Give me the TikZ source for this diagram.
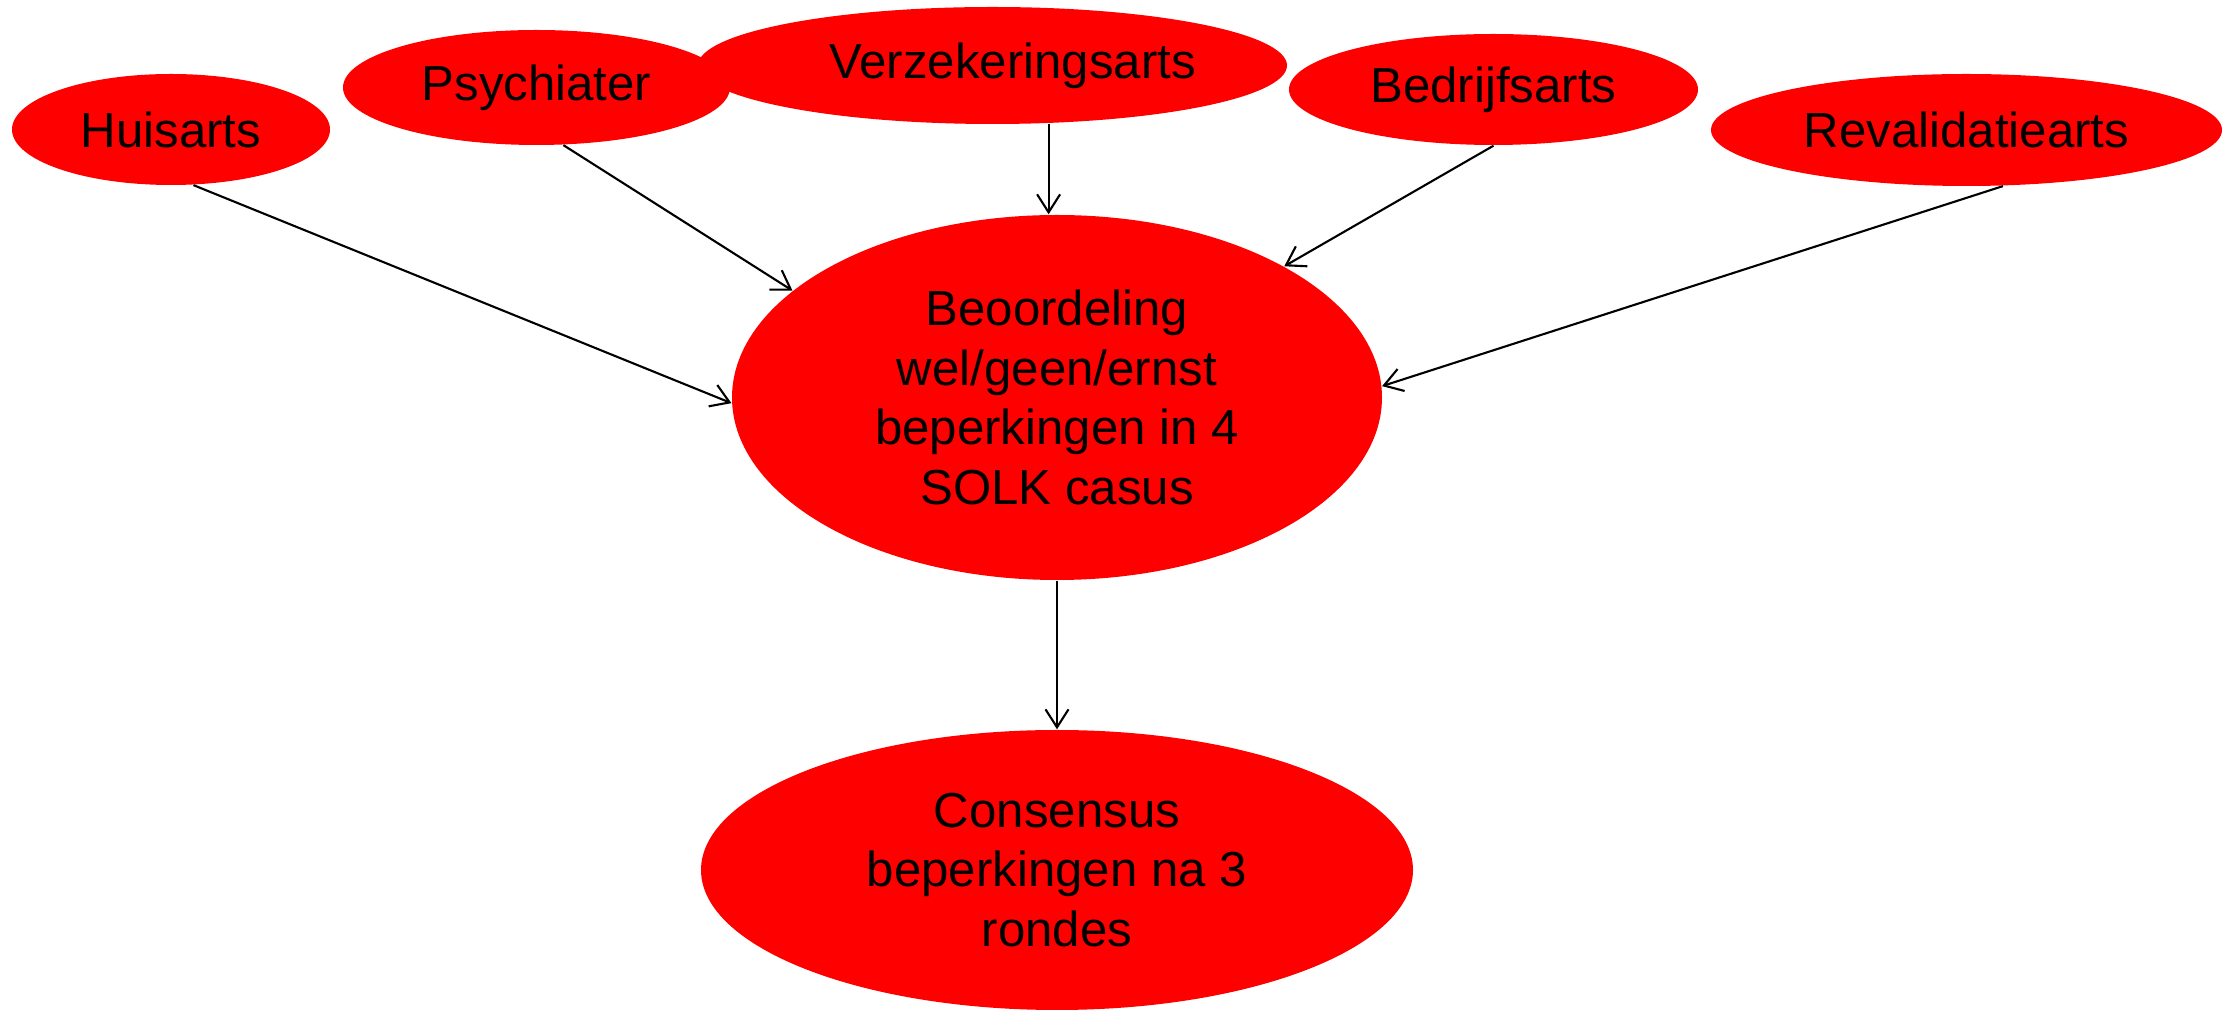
\documentclass[tikz,border=0pt]{standalone}
\usepackage{fontspec}
\setmainfont{Liberation Sans}
\usepackage{tikz}
\usetikzlibrary{arrows.meta,shapes.geometric}
\definecolor{ovalred}{RGB}{255,0,0}

\begin{document}
\begin{tikzpicture}[
    oval/.style={ellipse,fill=ovalred,inner sep=0pt,align=center,
        font=\fontsize{14}{17}\selectfont},
    link/.style={-{Straight Barb[length=1.8mm,width=2.3mm]},line width=0.6pt}]
    \useasboundingbox (0,0) rectangle (22.30,10.10);

    % Disciplines
    \node[oval,minimum width=3.18cm,minimum height=1.11cm] (huis) at (1.71,8.805) {Huisarts};
    \node[oval,minimum width=3.87cm,minimum height=1.15cm] (psych) at (5.365,9.225) {Psychiater};
    \node[oval,minimum width=5.89cm,minimum height=1.17cm] (verz) at (9.925,9.445) {\hspace*{0.4cm}Verzekeringsarts};
    \node[oval,minimum width=4.09cm,minimum height=1.11cm] (bedr) at (14.935,9.205) {Bedrijfsarts};
    \node[oval,minimum width=5.11cm,minimum height=1.12cm] (reval) at (19.665,8.80) {Revalidatiearts};

    % Assessment
    \node[oval,minimum width=6.50cm,minimum height=3.65cm] (beoord) at (10.57,6.125)
        {Beoordeling\\wel/geen/ernst\\beperkingen in 4\\SOLK casus};

    % Outcome
    \node[oval,minimum width=7.12cm,minimum height=2.80cm] (cons) at (10.57,1.40)
        {Consensus\\beperkingen na 3\\rondes};

    % Arrows
    \draw[link] (huis.-68) -- (beoord.181);
    \draw[link] (psych.-65) -- (beoord.158);
    \draw[link] (verz.-46) -- (verz.-46 |- beoord.north);
    \draw[link] (bedr.south) -- (beoord.30);
    \draw[link] (reval.-57) -- (beoord.2);
    \draw[link] (beoord.south) -- (cons.north);
\end{tikzpicture}
\end{document}
